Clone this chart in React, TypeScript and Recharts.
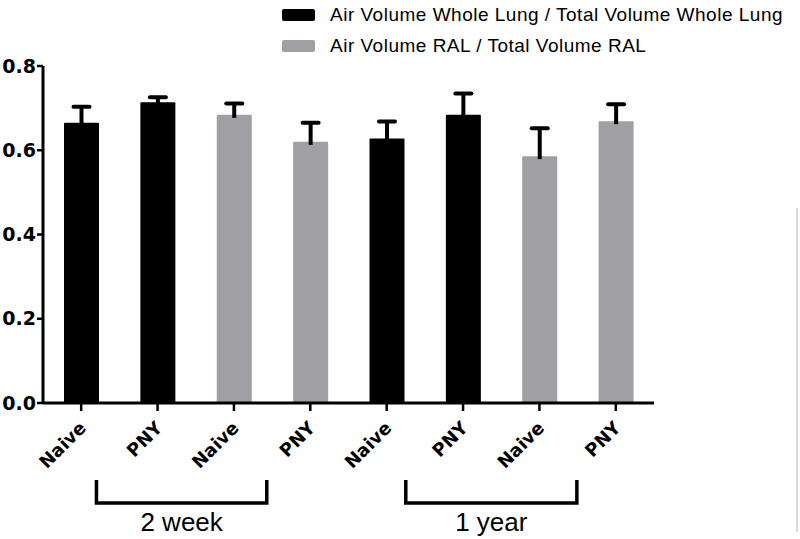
import React from "react";
import { BarChart, Bar, XAxis, YAxis } from "recharts";

const categories = ["Naive", "PNY", "Naive", "PNY", "Naive", "PNY", "Naive", "PNY"];
const means = [0.665, 0.714, 0.684, 0.62, 0.628, 0.684, 0.586, 0.669];
const sems = [0.038, 0.012, 0.027, 0.045, 0.04, 0.051, 0.066, 0.04];
const measures = ["whole", "whole", "ral", "ral", "whole", "whole", "ral", "ral"];
const yTicks = [0, 0.2, 0.4, 0.6, 0.8];

const seriesNames: Record<string, string> = {
  whole: "Air Volume Whole Lung / Total Volume Whole Lung",
  ral: "Air Volume RAL / Total Volume RAL",
};
const seriesColors: Record<string, string> = {
  whole: "#000000",
  ral: "#a0a0a4",
};

const groupLabels = ["2 week", "1 year"];
// span of each bracket, in category bands from the left of the plot
const groupSpans = [
  [0.7, 2.93],
  [4.75, 6.99],
];

const data = categories.map((name, i) => ({
  name,
  mean: means[i],
  sem: sems[i],
  measure: measures[i],
}));

const W = 800;
const H = 539;
const PLOT_LEFT = 43;
const PLOT_RIGHT = 654;
const PLOT_TOP = 66;
const PLOT_BOTTOM = 403;
const X_AXIS_H = 60;

const BarWithError = (props: any) => {
  const { x, y, width, height, payload } = props;
  const color = seriesColors[payload.measure];
  const pxPerUnit = height / payload.mean;
  const top = y - payload.sem * pxPerUnit;
  const cx = x + width / 2;
  return (
    <g>
      <rect x={x} y={y} width={width} height={height} fill={color} rx={1} />
      <line x1={cx} x2={cx} y1={y + 3} y2={top} stroke="#000" strokeWidth={4} />
      <line
        x1={cx - 8}
        x2={cx + 8}
        y1={top}
        y2={top}
        stroke="#000"
        strokeWidth={4}
        strokeLinecap="round"
      />
    </g>
  );
};

const XTick = (props: any) => {
  const { x, payload } = props;
  return (
    <text
      transform={`translate(${x + 6}, ${PLOT_BOTTOM + 26}) rotate(-45)`}
      textAnchor="end"
      fontFamily="DejaVu Sans"
      fontWeight="bold"
      fontSize={18}
      fill="#000"
    >
      {payload.value}
    </text>
  );
};

const LegendBox = () => (
  <div
    style={{
      position: "absolute",
      left: 282,
      top: -1,
      fontFamily: "Liberation Sans",
      fontSize: 19,
      letterSpacing: 0.5,
      color: "#000",
    }}
  >
    {["whole", "ral"].map((key) => (
      <div
        key={key}
        style={{ display: "flex", alignItems: "center", height: 31, whiteSpace: "nowrap" }}
      >
        <span
          style={{
            display: "inline-block",
            width: 33,
            height: 12,
            background: seriesColors[key],
            borderRadius: 2,
            marginRight: 15,
          }}
        />
        {seriesNames[key]}
      </div>
    ))}
  </div>
);

export default function App() {
  const band = (PLOT_RIGHT - PLOT_LEFT) / categories.length;
  return (
    <div style={{ position: "absolute", left: 0, top: 0, width: W, height: H, background: "#fff" }}>
      <BarChart
        width={W}
        height={H}
        data={data}
        margin={{ top: PLOT_TOP, right: W - PLOT_RIGHT, bottom: H - PLOT_BOTTOM - X_AXIS_H, left: 0 }}
        barSize={35}
      >
        <XAxis
          dataKey="name"
          height={X_AXIS_H}
          axisLine={{ stroke: "#000", strokeWidth: 3 }}
          tickLine={{ stroke: "#000", strokeWidth: 2.5 }}
          tickSize={8}
          tick={<XTick />}
          interval={0}
        />
        <YAxis
          width={PLOT_LEFT}
          domain={[0, 0.8]}
          ticks={yTicks}
          tickFormatter={(v: number) => v.toFixed(1)}
          axisLine={{ stroke: "#000", strokeWidth: 3 }}
          tickLine={{ stroke: "#000", strokeWidth: 2.5 }}
          tickSize={6}
          tickMargin={1}
          tick={{ fill: "#000", fontFamily: "DejaVu Sans", fontWeight: "bold", fontSize: 19 }}
        />
        <Bar dataKey="mean" shape={<BarWithError />} isAnimationActive={false} />
      </BarChart>
      <LegendBox />
      <svg
        width={W}
        height={H}
        style={{ position: "absolute", left: 0, top: 0, pointerEvents: "none" }}
      >
        {groupLabels.map((label, i) => {
          const x1 = PLOT_LEFT + groupSpans[i][0] * band;
          const x2 = PLOT_LEFT + groupSpans[i][1] * band;
          return (
            <g key={label}>
              <path
                d={`M${x1},480 L${x1},503 L${x2},503 L${x2},480`}
                fill="none"
                stroke="#000"
                strokeWidth={3.5}
              />
              <text
                x={(x1 + x2) / 2}
                y={531}
                textAnchor="middle"
                fontFamily="Liberation Sans"
                fontSize={26}
                fill="#000"
              >
                {label}
              </text>
            </g>
          );
        })}
        <line x1={797} x2={797} y1={208} y2={532} stroke="#d0d0d0" strokeWidth={1.5} />
      </svg>
    </div>
  );
}
